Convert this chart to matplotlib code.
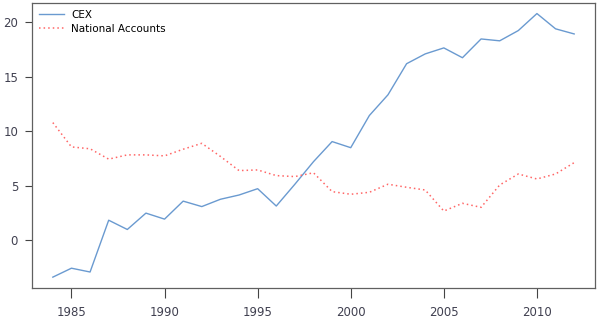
import matplotlib
matplotlib.use("Agg")
import matplotlib.pyplot as plt

years = list(range(1984, 2013))
cex = [-3.37, -2.55, -2.9, 1.85, 1.0, 2.5, 1.95, 3.6, 3.1, 3.77, 4.16, 4.74,
       3.15, 5.15, 7.22, 9.06, 8.5, 11.45, 13.35, 16.2, 17.1, 17.65, 16.75,
       18.47, 18.3, 19.24, 20.8, 19.4, 18.93]
national_accounts = [10.8, 8.57, 8.4, 7.45, 7.84, 7.84, 7.75, 8.36, 8.9, 7.7,
                     6.4, 6.46, 5.94, 5.85, 6.2, 4.47, 4.23, 4.41, 5.15, 4.87,
                     4.62, 2.69, 3.4, 3.03, 5.08, 6.09, 5.63, 6.09, 7.13]

plt.rcParams['font.family'] = ['DejaVu Sans']

fig = plt.figure(figsize=(6, 3.2), dpi=100)
ax = fig.add_axes([0.0533, 0.101, 0.9384, 0.8896])

ax.plot(years, cex, color='#6a9ad0', lw=1.0, label='CEX')
ax.plot(years, national_accounts, color='#ff6666', lw=1.1, ls=(0, (1, 2)),
        label='National Accounts')

# R-style 4% padding around the data
span = years[-1] - years[0]
ax.set_xlim(years[0] - 0.04 * span, years[-1] + 0.04 * span)
ymin, ymax = min(cex), max(cex)
ax.set_ylim(ymin - 0.04 * (ymax - ymin), ymax + 0.04 * (ymax - ymin))

ax.set_xticks([1985, 1990, 1995, 2000, 2005, 2010])
ax.set_yticks([0, 5, 10, 15, 20])
ax.tick_params(axis='x', length=7, width=0.8, color='#444444', labelsize=8.5,
               labelcolor='#404050', pad=6)
ax.tick_params(axis='y', length=5, width=0.8, color='#444444', labelsize=8.5,
               labelcolor='#404050', pad=5)
for s in ax.spines.values():
    s.set_color('#606060')
    s.set_linewidth(0.9)

ax.legend(loc='upper left', frameon=False, fontsize=7.5, handlelength=2.4,
          handletextpad=0.7, labelspacing=0.4, borderaxespad=0.25,
          bbox_to_anchor=(0.0, 1.0))

fig.savefig('out.png', dpi=100)
